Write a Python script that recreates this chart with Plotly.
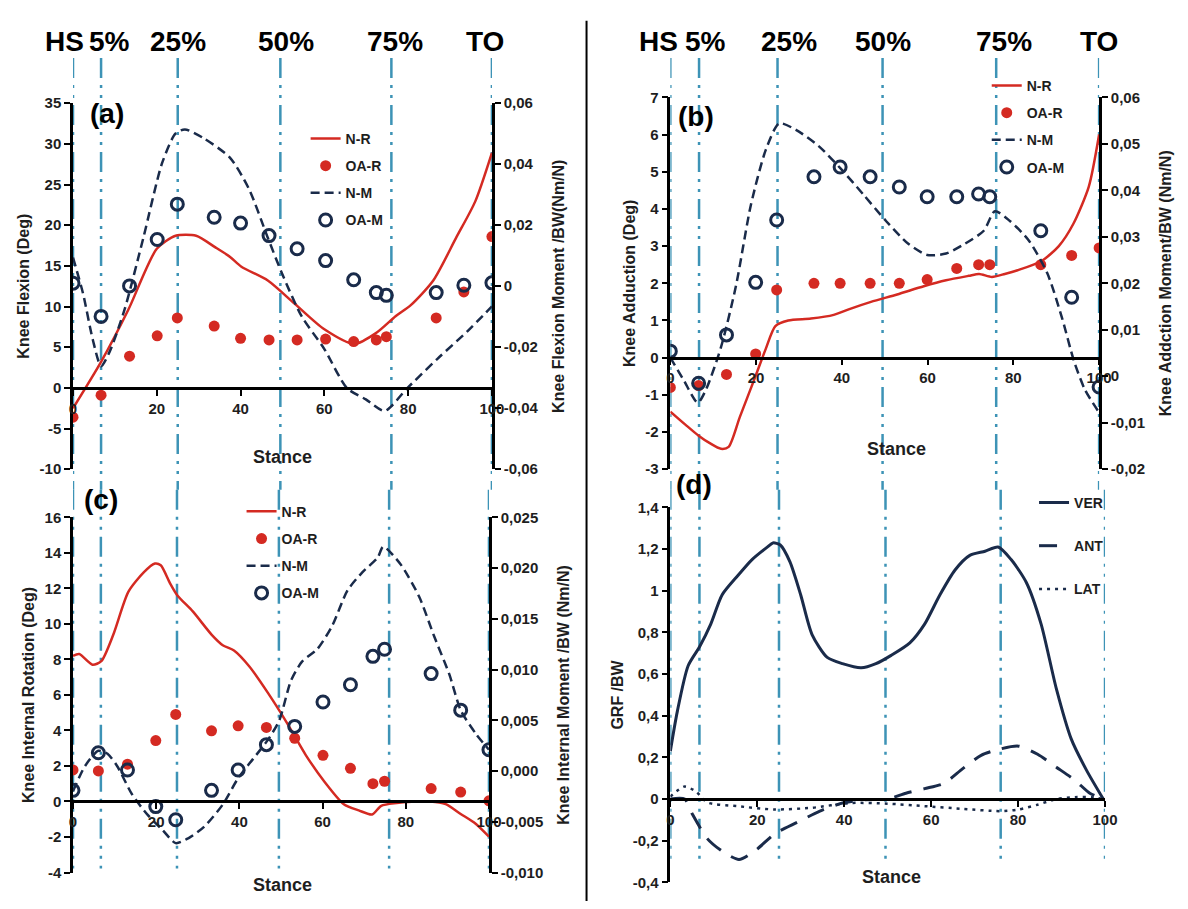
import plotly.graph_objects as go

W, H = 1188, 909

# ---------------- data ----------------
EVENT_X = [0, 6.7, 25, 49.5, 76, 100]
EVENT_LABELS = ["HS", "5%", "25%", "50%", "75%", "TO"]

STANCE_TICKS = [0, 20, 40, 60, 80, 100]
STANCE_TEXT = ["0", "20", "40", "60", "80", "100"]

# Panel (a) knee flexion (left, deg) / flexion moment (right, Nm/N)
A_LEFT_TICKS = [-10, -5, 0, 5, 10, 15, 20, 25, 30, 35]
A_LEFT_TEXT = ["-10", "-5", "0", "5", "10", "15", "20", "25", "30", "35"]
A_RIGHT_TICKS = [-0.06, -0.04, -0.02, 0, 0.02, 0.04, 0.06]
A_RIGHT_TEXT = ["-0,06", "-0,04", "-0,02", "0", "0,02", "0,04", "0,06"]

A_NR_X = [0, 6.7, 13.2, 20, 24.5, 29.4, 33.9, 37.5, 40.2, 46.5, 52.8, 60, 67.2, 72.5, 77, 80.7, 86, 91.5, 96, 100]
A_NR_Y = [-2.5, 3.2, 9.6, 17.1, 18.7, 18.7, 17.3, 16.1, 14.9, 13.2, 10.4, 7.2, 5.4, 6.8, 8.8, 10.2, 13.2, 18.5, 22.9, 28.9]
A_OA_X = [0, 6.7, 13.5, 20.1, 24.9, 33.7, 40, 46.8, 53.5, 60.3, 67, 72.4, 74.8, 86.7, 93.3, 100]
A_OAR_Y = [-3.6, -0.9, 3.9, 6.4, 8.6, 7.6, 6.1, 5.9, 5.9, 6.0, 5.7, 5.9, 6.3, 8.6, 11.8, 18.6]
A_OAM_Y = [0.001, -0.0099, 0.0001, 0.0153, 0.0269, 0.0226, 0.0207, 0.0166, 0.0123, 0.0084, 0.0021, -0.0021, -0.003, -0.0021, 0.0003, 0.0011]
A_NM_X = [0, 2.4, 4.7, 6.7, 8.7, 12.3, 16.8, 21.3, 24.5, 26.7, 31.2, 37.5, 42, 46.5, 50.1, 54.6, 60, 65.4, 69.9, 74.4, 79.8, 87, 94.2, 100]
A_NM_Y = [0.0094, -0.0024, -0.0174, -0.0262, -0.0216, -0.0077, 0.0159, 0.0405, 0.0501, 0.0514, 0.0485, 0.0421, 0.0319, 0.0159, 0.0035, -0.0099, -0.0206, -0.0334, -0.0371, -0.0409, -0.0334, -0.0238, -0.0147, -0.0066]

# Panel (b) knee adduction (left) / adduction moment (right)
B_LEFT_TICKS = [-3, -2, -1, 0, 1, 2, 3, 4, 5, 6, 7]
B_LEFT_TEXT = ["-3", "-2", "-1", "0", "1", "2", "3", "4", "5", "6", "7"]
B_RIGHT_TICKS = [-0.02, -0.01, 0, 0.01, 0.02, 0.03, 0.04, 0.05, 0.06]
B_RIGHT_TEXT = ["-0,02", "-0,01", "0", "0,01", "0,02", "0,03", "0,04", "0,05", "0,06"]

B_NR_X = [0, 3.5, 6.6, 9.2, 11.8, 13.6, 16.2, 19.7, 22.3, 24.5, 27.5, 32.8, 38.1, 41.6, 46.8, 52.9, 59.1, 64.3, 69.6, 72, 75, 78, 81, 86.6, 90.6, 94, 97.6, 100]
B_NR_Y = [-1.45, -1.8, -2.1, -2.3, -2.45, -2.4, -1.6, -0.55, 0.25, 0.85, 1.0, 1.05, 1.15, 1.3, 1.5, 1.7, 1.92, 2.08, 2.2, 2.25, 2.17, 2.25, 2.35, 2.6, 3.0, 3.6, 4.6, 6.0]
B_OA_X = [0, 6.6, 13.1, 19.9, 24.8, 33.5, 39.6, 46.6, 53.4, 59.9, 66.8, 71.9, 74.5, 86.4, 93.6, 100]
B_OAR_Y = [-0.8, -0.75, -0.45, 0.1, 1.82, 2.0, 2.0, 2.0, 2.0, 2.1, 2.4, 2.5, 2.5, 2.5, 2.75, 2.95]
B_OAM_Y = [0.0054, -0.0015, 0.0089, 0.0202, 0.0336, 0.0429, 0.045, 0.0429, 0.0407, 0.0386, 0.0386, 0.0392, 0.0386, 0.0313, 0.017, -0.0023]
B_NM_X = [0, 3.1, 6.4, 8.3, 11.8, 15.3, 18.8, 22.3, 25.4, 29.3, 34.6, 39.8, 45.1, 50.3, 55.5, 59.9, 64.3, 68.7, 73.1, 75.7, 79.2, 83.6, 87.9, 91.4, 94.1, 96.7, 100]
B_NM_Y = [0.004, -0.0008, -0.0057, -0.0029, 0.0062, 0.0194, 0.0369, 0.0488, 0.0544, 0.053, 0.0495, 0.0446, 0.039, 0.0334, 0.0285, 0.0261, 0.0264, 0.0285, 0.0313, 0.0355, 0.0334, 0.0292, 0.0222, 0.0124, 0.0034, -0.0029, -0.0078]

# Panel (c) knee internal rotation (left) / internal moment (right)
C_LEFT_TICKS = [-4, -2, 0, 2, 4, 6, 8, 10, 12, 14, 16]
C_LEFT_TEXT = ["-4", "-2", "0", "2", "4", "6", "8", "10", "12", "14", "16"]
C_RIGHT_TICKS = [-0.010, -0.005, 0.0, 0.005, 0.010, 0.015, 0.020, 0.025]
C_RIGHT_TEXT = ["-0,010", "-0,005", "0,000", "0,005", "0,010", "0,015", "0,020", "0,025"]

C_NR_X = [0, 1.5, 4.7, 6.8, 9.7, 13.3, 17, 19.7, 21.1, 23.3, 25.1, 28.8, 33.3, 36, 38.7, 42.4, 46.9, 51.5, 56, 60.5, 65.1, 68.7, 71.9, 74.1, 77.8, 81.4, 85.9, 89.6, 93.2, 96.8, 100]
C_NR_Y = [8.2, 8.3, 7.7, 7.9, 9.4, 11.8, 12.9, 13.4, 13.3, 12.3, 11.6, 10.7, 9.4, 8.8, 8.5, 7.6, 6.1, 4.4, 2.6, 1.1, -0.15, -0.5, -0.73, -0.24, -0.09, -0.02, 0.0, -0.15, -0.7, -1.25, -1.98]
C_OA_X = [0, 6.1, 13.1, 19.9, 24.7, 33.3, 39.7, 46.5, 53.3, 60.1, 66.7, 72.1, 74.9, 86.1, 93.2, 100]
C_OAR_Y = [1.78, 1.72, 2.1, 3.43, 4.9, 3.98, 4.26, 4.17, 3.56, 2.6, 1.87, 1.0, 1.14, 0.73, 0.53, 0.04]
C_OAM_Y = [-0.0019, 0.0018, 0.0001, -0.0035, -0.0048, -0.0019, 0.0001, 0.0026, 0.0044, 0.0068, 0.0085, 0.0113, 0.012, 0.0096, 0.006, 0.0021]
C_NM_X = [0, 2.9, 6.1, 8.3, 10.6, 14.2, 17.9, 21.5, 24.7, 27.8, 31.5, 36, 39.7, 43.3, 46.9, 49.6, 52.4, 55.1, 58.7, 62.3, 66, 69.6, 73.2, 74.6, 78.7, 83.2, 86.8, 90.5, 93.2, 96.8, 100]
C_NM_Y = [-0.002, 0.0005, 0.002, 0.0017, 0.0005, -0.0023, -0.0043, -0.0058, -0.0071, -0.0066, -0.0055, -0.0033, -0.0007, 0.0012, 0.0031, 0.005, 0.0089, 0.0108, 0.012, 0.0143, 0.0178, 0.0196, 0.021, 0.0221, 0.0204, 0.0172, 0.0133, 0.0095, 0.006, 0.0037, 0.0021]

# Panel (d) ground reaction forces
D_LEFT_TICKS = [-0.4, -0.2, 0, 0.2, 0.4, 0.6, 0.8, 1.0, 1.2, 1.4]
D_LEFT_TEXT = ["-0,4", "-0,2", "0", "0,2", "0,4", "0,6", "0,8", "1", "1,2", "1,4"]

D_VER_X = [0, 1.6, 4.1, 6.7, 9.3, 11.9, 15.4, 18.8, 22.3, 23.6, 25.3, 27.5, 30, 32.6, 36.1, 39.6, 43.9, 47.3, 50.8, 55.1, 58.5, 62, 65.5, 68.9, 72.4, 75.4, 78.4, 81.9, 85.3, 88.8, 92.2, 95.7, 99.6]
D_VER_Y = [0.23, 0.42, 0.64, 0.73, 0.84, 0.98, 1.07, 1.15, 1.21, 1.23, 1.22, 1.14, 0.98, 0.79, 0.68, 0.65, 0.63, 0.65, 0.69, 0.75, 0.84, 0.98, 1.1, 1.17, 1.19, 1.21, 1.15, 1.04, 0.84, 0.53, 0.29, 0.14, 0.0]
D_ANT_X = [0, 3.3, 5, 8.5, 11.9, 15.8, 19.7, 24, 29.2, 34.4, 39.6, 44.7, 49.9, 54.2, 58.5, 62.9, 67.2, 71.5, 75.8, 80.1, 84.5, 88.8, 93.1, 96.5, 99.6]
D_ANT_Y = [0.0, 0.0, -0.07, -0.19, -0.25, -0.29, -0.245, -0.167, -0.112, -0.058, -0.019, -0.003, 0.0, 0.028, 0.05, 0.075, 0.145, 0.21, 0.24, 0.254, 0.215, 0.153, 0.09, 0.028, 0.0]
D_LAT_X = [0, 3.3, 5.9, 8.5, 15.4, 24, 32.6, 41.3, 49.9, 58.5, 67.2, 75.8, 80.1, 84.5, 88.8, 93.1, 97.4, 99.6]
D_LAT_Y = [0.012, 0.06, 0.036, -0.016, -0.034, -0.05, -0.042, -0.019, -0.022, -0.034, -0.047, -0.058, -0.05, -0.027, 0.0, 0.009, 0.008, 0.0]

# ---------------- styling / geometry ----------------
RED = "#d42a22"
NAVY = "#1a2b4a"
TEAL = "#3d93b6"
FONT = "Liberation Sans, Arial, sans-serif"
TXT = "#1e1e1e"


def px_x(p):
    return p / W


def px_y(p):
    return 1 - p / H


# plot-area pixel boxes (left, right, top, bottom)
BOX = {
    "a": (70, 495, 96, 469),
    "b": (676, 1111, 90, 469),
    "c": (70, 492, 518, 880),
    "d": (676, 1117, 508, 890),
}


def xdom(k):
    l, r, t, b = BOX[k]
    return [px_x(l), px_x(r)]


def ydom(k):
    l, r, t, b = BOX[k]
    return [px_y(b), px_y(t)]


def zero_pos(k, rng):
    d = ydom(k)
    return d[0] + (0 - rng[0]) / (rng[1] - rng[0]) * (d[1] - d[0])


tickfont = dict(family=FONT, size=15, color=TXT, weight="bold")
titlefont = dict(family=FONT, size=16, color=TXT, weight="bold")

ax_common = dict(
    showline=True, linecolor="black", linewidth=2.5,
    ticks="outside", ticklen=6, tickwidth=2, tickcolor="black",
    showgrid=False, zeroline=False, tickfont=tickfont, tickmode="array",
)
# inner half of the crossing tick marks (no line, no labels)
inner_common = dict(
    showline=False, ticks="inside", ticklen=6, tickwidth=2, tickcolor="black",
    showgrid=False, zeroline=False, showticklabels=False, tickmode="array",
)

RANGES = {
    "a": ([-10, 35], [-0.06, 0.06]),
    "b": ([-3, 7], [-0.02, 0.06]),
    "c": ([-4, 16], [-0.010, 0.025]),
    "d": ([-0.4, 1.4], None),
}

fig = go.Figure()


def add_line(x, y, name, color, dash, xa, ya, leg, width=2.5):
    fig.add_trace(go.Scatter(
        x=x, y=y, mode="lines", name=name,
        line=dict(color=color, width=width, dash=dash, shape="spline", smoothing=0.7),
        xaxis=xa, yaxis=ya, legend=leg, legendgroup=leg + name,
    ))


def add_dots(x, y, name, xa, ya, leg, open_=False):
    if open_:
        marker = dict(symbol="circle-open", size=12, color=NAVY, line=dict(width=3, color=NAVY))
    else:
        marker = dict(symbol="circle", size=11, color=RED)
    fig.add_trace(go.Scatter(
        x=x, y=y, mode="markers", name=name, marker=marker,
        xaxis=xa, yaxis=ya, legend=leg, legendgroup=leg + name,
    ))


# (a)
add_line(A_NR_X, A_NR_Y, "N-R", RED, "solid", "x", "y", "legend")
add_dots(A_OA_X, A_OAR_Y, "OA-R", "x", "y", "legend")
add_line(A_NM_X, A_NM_Y, "N-M", NAVY, "9px,5px", "x", "y2", "legend")
add_dots(A_OA_X, A_OAM_Y, "OA-M", "x", "y2", "legend", open_=True)
# (b)
add_line(B_NR_X, B_NR_Y, "N-R", RED, "solid", "x2", "y3", "legend2")
add_dots(B_OA_X, B_OAR_Y, "OA-R", "x2", "y3", "legend2")
add_line(B_NM_X, B_NM_Y, "N-M", NAVY, "9px,5px", "x2", "y4", "legend2")
add_dots(B_OA_X, B_OAM_Y, "OA-M", "x2", "y4", "legend2", open_=True)
# (c)
add_line(C_NR_X, C_NR_Y, "N-R", RED, "solid", "x3", "y5", "legend3")
add_dots(C_OA_X, C_OAR_Y, "OA-R", "x3", "y5", "legend3")
add_line(C_NM_X, C_NM_Y, "N-M", NAVY, "9px,5px", "x3", "y6", "legend3")
add_dots(C_OA_X, C_OAM_Y, "OA-M", "x3", "y6", "legend3", open_=True)
# (d)
add_line(D_VER_X, D_VER_Y, "VER", NAVY, "solid", "x4", "y7", "legend4", width=3)
add_line(D_ANT_X, D_ANT_Y, "ANT", NAVY, "18px,12px", "x4", "y7", "legend4", width=3)
add_line(D_LAT_X, D_LAT_Y, "LAT", NAVY, "3px,5px", "x4", "y7", "legend4", width=2.5)

layout = dict(
    width=W, height=H, margin=dict(l=0, r=0, t=0, b=0),
    paper_bgcolor="white", plot_bgcolor="rgba(0,0,0,0)",
    font=dict(family=FONT, color=TXT),
)

panels = [
    ("a", 1, 1, 2, A_LEFT_TICKS, A_LEFT_TEXT, A_RIGHT_TICKS, A_RIGHT_TEXT,
     "Knee Flexion (Deg)", "Knee Flexion Moment /BW(Nm/N)"),
    ("b", 2, 3, 4, B_LEFT_TICKS, B_LEFT_TEXT, B_RIGHT_TICKS, B_RIGHT_TEXT,
     "Knee Adduction (Deg)", "Knee Addction Moment/BW (Nm/N)"),
    ("c", 3, 5, 6, C_LEFT_TICKS, C_LEFT_TEXT, C_RIGHT_TICKS, C_RIGHT_TEXT,
     "Knee Internal Rotation (Deg)", "Knee Internal Moment /BW (Nm/N)"),
    ("d", 4, 7, None, D_LEFT_TICKS, D_LEFT_TEXT, None, None,
     "GRF /BW", None),
]


def axname(kind, n):
    return kind + ("axis" if n == 1 else "axis%d" % n)


def axref(kind, n):
    return kind if n == 1 else "%s%d" % (kind, n)


extra_x, extra_y = 10, 10  # ids for the inner-tick overlay axes
for k, xi, yl, yr, lt, ltx, rt, rtx, ltitle, rtitle in panels:
    lr, rr = RANGES[k]
    xpos = zero_pos(k, lr)
    layout[axname("x", xi)] = dict(ax_common, domain=xdom(k), range=[0, 100], anchor="free",
                                   position=xpos, tickvals=STANCE_TICKS, ticktext=STANCE_TEXT)
    layout[axname("y", yl)] = dict(ax_common, domain=ydom(k), range=lr, anchor=axref("x", xi),
                                   tickvals=lt, ticktext=ltx,
                                   title=dict(text=ltitle, font=titlefont, standoff=6))
    # inner tick halves
    layout[axname("x", extra_x)] = dict(inner_common, overlaying=axref("x", xi), range=[0, 100],
                                        anchor="free", position=xpos, tickvals=STANCE_TICKS)
    extra_x += 1
    layout[axname("y", extra_y)] = dict(inner_common, overlaying=axref("y", yl), range=lr,
                                        anchor=axref("x", xi), side="left", tickvals=lt)
    extra_y += 1
    if yr:
        layout[axname("y", yr)] = dict(ax_common, range=rr, anchor=axref("x", xi),
                                       overlaying=axref("y", yl), side="right",
                                       tickvals=rt, ticktext=rtx,
                                       title=dict(text=rtitle, font=titlefont, standoff=16))
        layout[axname("y", extra_y)] = dict(inner_common, overlaying=axref("y", yl), range=rr,
                                            anchor=axref("x", xi), side="right", tickvals=rt)
        extra_y += 1

legfont = dict(family=FONT, size=14, color=TXT, weight="bold")
leg_common = dict(xanchor="left", yanchor="top", bgcolor="rgba(0,0,0,0)",
                  font=legfont, itemwidth=30, tracegroupgap=6)
layout["legend"] = dict(leg_common, x=px_x(306), y=px_y(116))
layout["legend2"] = dict(leg_common, x=px_x(997), y=px_y(62))
layout["legend3"] = dict(leg_common, x=px_x(241), y=px_y(496))
layout["legend4"] = dict(leg_common, x=px_x(1045), y=px_y(487), tracegroupgap=22)

fig.update_layout(**layout)

# event reference lines (left column: a over c, right column: b over d)
shapes = []
line_style = dict(color=TEAL, width=2.5, dash="20px,7px,3px,7px,3px,7px")
segments = [("x", 50, 490), ("x3", 490, 876), ("x2", 50, 490), ("x4", 490, 866)]
for xr, top, bot in segments:
    for ev in EVENT_X:
        shapes.append(dict(type="line", xref=xr, yref="paper", x0=ev, x1=ev,
                           y0=px_y(top), y1=px_y(bot), line=line_style, layer="below"))
# column separator
shapes.append(dict(type="line", xref="paper", yref="paper", x0=px_x(591), x1=px_x(591),
                   y0=px_y(12), y1=0, line=dict(color="black", width=2)))
fig.update_layout(shapes=shapes)

ann = []
LEFT_SHIFT = [-8, 8, 0, 6, 4, -7]
RIGHT_SHIFT = [-12, 6, 11, 0, 8, 0]
for xr, shifts in (("x", LEFT_SHIFT), ("x2", RIGHT_SHIFT)):
    for ev, lab, sh in zip(EVENT_X, EVENT_LABELS, shifts):
        ann.append(dict(text=lab, xref=xr, yref="paper", x=ev, y=px_y(33), xshift=sh,
                        showarrow=False, xanchor="center", yanchor="middle",
                        font=dict(family=FONT, size=28, color="black", weight="bold")))

for lab, (px, py) in {"(a)": (105, 107), "(b)": (702, 110), "(c)": (98, 500), "(d)": (700, 485)}.items():
    ann.append(dict(text=lab, xref="paper", yref="paper", x=px_x(px), y=px_y(py),
                    xanchor="center", yanchor="middle", showarrow=False,
                    font=dict(family=FONT, size=28, color="black", weight="bold")))

for px, py in ((283, 457), (905, 448), (283, 893), (900, 885)):
    ann.append(dict(text="Stance", xref="paper", yref="paper", x=px_x(px), y=px_y(py),
                    xanchor="center", yanchor="middle", showarrow=False,
                    font=dict(family=FONT, size=18, color=TXT, weight="bold")))

fig.update_layout(annotations=ann)

fig.write_html("out.html")
